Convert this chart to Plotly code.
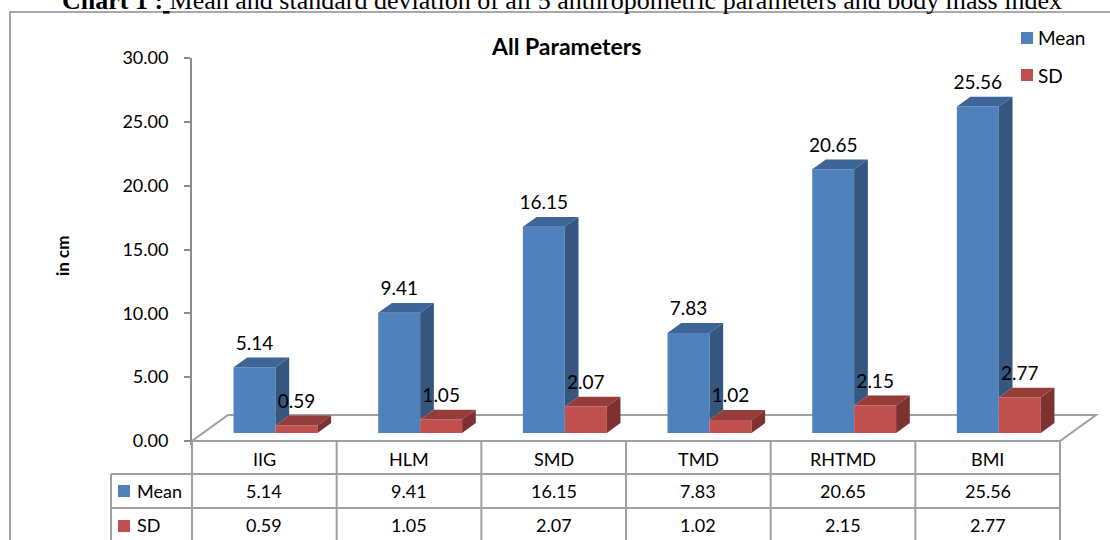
import plotly.graph_objects as go

# ---------------- data ----------------
categories = ["IIG", "HLM", "SMD", "TMD", "RHTMD", "BMI"]
mean_values = [5.14, 9.41, 16.15, 7.83, 20.65, 25.56]
sd_values = [0.59, 1.05, 2.07, 1.02, 2.15, 2.77]
series_names = ["Mean", "SD"]
y_ticks = [0, 5, 10, 15, 20, 25, 30]
chart_title = "All Parameters"
y_title = "in cm"
caption_bold = "Chart 1 :"
caption_rest = "Mean and standard deviation of all 5 anthropometric parameters and body mass index"

# ---------------- layout geometry ----------------
W, H = 1110, 540
L, R, T, B = 192, 10, 58, 95
PW, PH = W - L - R, H - T - B
Y_MAX = 30
PX_PER_VAL = 383 / Y_MAX
Y_MIN = -(PH - 383) / PX_PER_VAL
PX_PER_CAT = 868 / len(categories)
X_MAX = PW / PX_PER_CAT

DX_FLOOR = 36 / PX_PER_CAT
DY_FLOOR = 26 / PX_PER_VAL
F0 = 0.31          # depth fraction of bar front
FB = 0.38          # depth fraction of bar thickness
BAR_W = 0.29
BASE = F0 * DY_FLOOR
DXB, DYB = FB * DX_FLOOR, FB * DY_FLOOR
LABEL_LIFT = 3 / PX_PER_VAL

BLUE_FRONT, BLUE_SIDE, BLUE_TOP = "#4F81BD", "#34567F", "#3D6597"
RED_FRONT, RED_SIDE, RED_TOP = "#C0504D", "#7E3230", "#963D3A"
GRID = "#A0A0A0"
FONT = "Lato"


def px_x(px):
    return (px - L) / PW


def px_y(py):
    return (H - B - py) / PH


n = len(categories)
shift = F0 * DX_FLOOR
blue_left = [i + 0.5 + shift - BAR_W for i in range(n)]
red_left = [i + 0.5 + shift for i in range(n)]

fig = go.Figure()

# front faces (bars)
fig.add_trace(go.Bar(x=[xl + BAR_W / 2 for xl in blue_left], y=mean_values, base=BASE,
                     width=BAR_W, marker=dict(color=BLUE_FRONT, line=dict(width=0)),
                     name=series_names[0], showlegend=False, hoverinfo="skip"))
fig.add_trace(go.Bar(x=[xl + BAR_W / 2 for xl in red_left], y=sd_values, base=BASE,
                     width=BAR_W, marker=dict(color=RED_FRONT, line=dict(width=0)),
                     name=series_names[1], showlegend=False, hoverinfo="skip"))


def poly_trace(xs, ys, color):
    return go.Scatter(x=xs, y=ys, mode="none", fill="toself", fillcolor=color,
                      showlegend=False, hoverinfo="skip")


def side_top(lefts, vals, lower_vals=None):
    sx, sy, tx, ty = [], [], [], []
    for k, (xl, v) in enumerate(zip(lefts, vals)):
        xr = xl + BAR_W
        top = BASE + v
        low = BASE if lower_vals is None else BASE + lower_vals[k]
        sx += [xr, xr + DXB, xr + DXB, xr, None]
        sy += [low, low + DYB, top + DYB, top, None]
        tx += [xl, xl + DXB, xr + DXB, xr, None]
        ty += [top, top + DYB, top + DYB, top, None]
    return sx, sy, tx, ty


bsx, bsy, btx, bty = side_top(blue_left, mean_values, sd_values)
rsx, rsy, rtx, rty = side_top(red_left, sd_values)
fig.add_trace(poly_trace(bsx, bsy, BLUE_SIDE))
fig.add_trace(poly_trace(btx, bty, BLUE_TOP))
fig.add_trace(poly_trace(rsx, rsy, RED_SIDE))
fig.add_trace(poly_trace(rtx, rty, RED_TOP))

# data labels
label_font = dict(family=FONT, size=19, color="#000000")
fig.add_trace(go.Scatter(x=[xl + BAR_W / 2 for xl in blue_left],
                         y=[BASE + v + DYB + LABEL_LIFT for v in mean_values],
                         mode="text", text=[f"{v:.2f}" for v in mean_values],
                         textposition="top center", textfont=label_font,
                         cliponaxis=False, showlegend=False, hoverinfo="skip"))
fig.add_trace(go.Scatter(x=[xl + BAR_W / 2 for xl in red_left],
                         y=[BASE + v + DYB + LABEL_LIFT for v in sd_values],
                         mode="text", text=[f"{v:.2f}" for v in sd_values],
                         textposition="top center", textfont=label_font,
                         cliponaxis=False, showlegend=False, hoverinfo="skip"))

shapes = []
# floor
shapes.append(dict(type="path", xref="x", yref="y", layer="below",
                   path=f"M0,0 L{n},0 L{n + DX_FLOOR},{DY_FLOOR} L{DX_FLOOR},{DY_FLOOR} Z",
                   line=dict(color=GRID, width=2)))

# data table lines (paper coords)
x_cols = [L + k * PX_PER_CAT for k in range(n + 1)]
x_tab_left = 111
y_rows = [441, 474, 508, 542]


def pline(x0, y0, x1, y1, color=GRID, width=2):
    return dict(type="line", xref="paper", yref="paper", x0=px_x(x0), y0=px_y(y0),
                x1=px_x(x1), y1=px_y(y1), line=dict(color=color, width=width))


shapes.append(pline(L, y_rows[0], x_cols[-1], y_rows[0]))
for yr in y_rows[1:]:
    shapes.append(pline(x_tab_left, yr, x_cols[-1], yr))
for xc in x_cols:
    shapes.append(pline(xc, y_rows[0], xc, 560))
shapes.append(pline(x_tab_left, y_rows[1], x_tab_left, 560))

# outer border
shapes.append(dict(type="rect", xref="paper", yref="paper", x0=px_x(10), y0=px_y(12),
                   x1=px_x(1130), y1=px_y(570), line=dict(color="#8C8C8C", width=1.5)))


def swatch(x0, y0, color, size=12):
    return dict(type="rect", xref="paper", yref="paper", x0=px_x(x0), y0=px_y(y0),
                x1=px_x(x0 + size), y1=px_y(y0 + size), line=dict(width=0), fillcolor=color)


# legend swatches
shapes.append(swatch(1021, 32, BLUE_FRONT))
shapes.append(swatch(1021, 69, RED_FRONT))
# table swatches
shapes.append(swatch(118, 485, BLUE_FRONT))
shapes.append(swatch(118, 520, RED_FRONT))

annotations = []


def ptext(text, x, y, size=18, bold=False, xanchor="center", family=FONT, angle=0):
    return dict(text=f"<b>{text}</b>" if bold else text, xref="paper", yref="paper",
                x=px_x(x), y=px_y(y), xanchor=xanchor, yanchor="middle", showarrow=False,
                textangle=angle, font=dict(family=family, size=size, color="#000000"))


# legend text
annotations.append(ptext(series_names[0], 1036, 38, size=19, xanchor="left"))
annotations.append(ptext(series_names[1], 1036, 75, size=19, xanchor="left"))
# table text
row_centers = [459, 491, 525]
for i, c in enumerate(categories):
    cx = (x_cols[i] + x_cols[i + 1]) / 2
    annotations.append(ptext(c, cx, row_centers[0]))
    annotations.append(ptext(f"{mean_values[i]:.2f}", cx, row_centers[1]))
    annotations.append(ptext(f"{sd_values[i]:.2f}", cx, row_centers[2]))
annotations.append(ptext(series_names[0], 135, row_centers[1], xanchor="left"))
annotations.append(ptext(series_names[1], 135, row_centers[2], xanchor="left"))
# titles
annotations.append(ptext(chart_title, 566, 46, size=23, bold=True))
annotations.append(ptext(y_title, 62, 256, size=17, bold=True, angle=-90))
annotations.append(dict(text=f"<b>{caption_bold}</b><u> </u>{caption_rest}", xref="paper",
                        yref="paper", x=px_x(60), y=px_y(0), xanchor="left", yanchor="middle",
                        showarrow=False,
                        font=dict(family="Liberation Serif", size=26, color="#000000")))

fig.update_layout(
    width=W, height=H, margin=dict(l=L, r=R, t=T, b=B, pad=0),
    paper_bgcolor="white", plot_bgcolor="white", barmode="overlay",
    shapes=shapes, annotations=annotations, showlegend=False,
    xaxis=dict(range=[0, X_MAX], visible=False, fixedrange=True),
    yaxis=dict(range=[Y_MIN, Y_MAX], tickvals=y_ticks, tickformat=".2f",
               showgrid=False, zeroline=False, showline=True, linecolor="#8C8C8C",
               linewidth=2, ticks="outside", ticklen=6, tickwidth=2, tickcolor="#8C8C8C",
               ticklabelstandoff=12, tickfont=dict(family=FONT, size=18, color="#000000"),
               fixedrange=True),
)

fig.write_html("out.html")
